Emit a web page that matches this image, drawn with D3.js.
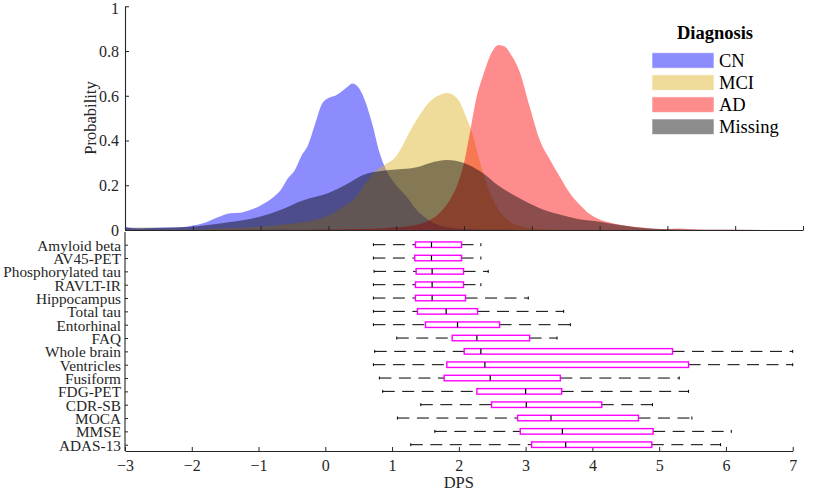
<!DOCTYPE html>
<html>
<head>
<meta charset="utf-8">
<script src="https://cdn.jsdelivr.net/npm/d3@7"></script>
<style>
  html, body { margin: 0; padding: 0; background: #fff; }
  svg { display: block; font-family: "Liberation Serif", "Times New Roman", serif; }
</style>
</head>
<body>
<svg id="chart" width="813" height="492"></svg>
<script>
// ---------- Data ----------
const diagnoses = ["CN", "MCI", "AD", "Missing"];

const cnDensity = [
  [-3, 0.015], [-2.8, 0.006], [-2.5, 0.01], [-2.2, 0.012], [-2.0, 0.02], [-1.8, 0.035],
  [-1.6, 0.06], [-1.45, 0.075], [-1.3, 0.077], [-1.2, 0.085], [-1.0, 0.11], [-0.8, 0.15],
  [-0.7, 0.18], [-0.6, 0.23], [-0.5, 0.265], [-0.4, 0.33], [-0.3, 0.38], [-0.2, 0.47],
  [-0.1, 0.56], [0.0, 0.59], [0.1, 0.60], [0.2, 0.62], [0.3, 0.645], [0.35, 0.655],
  [0.45, 0.635], [0.55, 0.57], [0.65, 0.47], [0.75, 0.35], [0.85, 0.27], [1.0, 0.2],
  [1.15, 0.15], [1.3, 0.09], [1.45, 0.05], [1.6, 0.025], [1.8, 0.01], [2.0, 0.005],
  [2.5, 0.002], [3.0, 0.0], [7.0, 0.0]
];
const mciDensity = [
  [-3, 0.0], [-2, 0.002], [-1.5, 0.008], [-1.0, 0.015], [-0.5, 0.03], [-0.2, 0.045],
  [0.0, 0.065], [0.2, 0.1], [0.4, 0.145], [0.55, 0.21], [0.7, 0.265], [0.85, 0.295],
  [1.0, 0.33], [1.1, 0.38], [1.2, 0.44], [1.35, 0.515], [1.5, 0.575], [1.65, 0.605],
  [1.75, 0.612], [1.9, 0.588], [2.04, 0.5], [2.14, 0.415], [2.24, 0.3], [2.33, 0.21],
  [2.43, 0.135], [2.53, 0.082], [2.68, 0.037], [2.85, 0.015], [3.0, 0.007], [3.5, 0.001],
  [7.0, 0.0]
];
const adDensity = [
  [-3, 0.0], [-1.0, 0.001], [0.0, 0.002], [0.5, 0.004], [1.0, 0.012], [1.25, 0.02],
  [1.5, 0.045], [1.6, 0.065], [1.79, 0.134], [1.9, 0.2], [2.0, 0.3], [2.09, 0.44],
  [2.19, 0.6], [2.28, 0.69], [2.38, 0.775], [2.51, 0.827], [2.6, 0.82], [2.68, 0.79],
  [2.83, 0.70], [2.97, 0.55], [3.12, 0.40], [3.27, 0.313], [3.42, 0.235], [3.56, 0.165],
  [3.71, 0.112], [3.86, 0.07], [4.0, 0.047], [4.15, 0.034], [4.3, 0.024], [4.6, 0.012],
  [4.85, 0.005], [5.0, 0.004], [5.15, 0.007], [5.3, 0.004], [5.6, 0.001], [7.0, 0.0]
];
const missingDensity = [
  [-3, 0.01], [-2.5, 0.01], [-2.0, 0.015], [-1.5, 0.033], [-1.0, 0.06], [-0.7, 0.09],
  [-0.4, 0.13], [0.0, 0.165], [0.3, 0.21], [0.5, 0.245], [0.8, 0.265], [1.0, 0.27],
  [1.3, 0.28], [1.5, 0.3], [1.75, 0.313], [2.0, 0.30], [2.25, 0.26], [2.5, 0.2],
  [2.8, 0.145], [3.1, 0.1], [3.4, 0.07], [3.7, 0.048], [4.0, 0.037], [4.3, 0.022],
  [4.6, 0.01], [4.9, 0.004], [5.5, 0.001], [7.0, 0.0]
];

const biomarkers = ["Amyloid beta", "AV45-PET", "Phosphorylated tau", "RAVLT-IR", "Hippocampus",
  "Total tau", "Entorhinal", "FAQ", "Whole brain", "Ventricles", "Fusiform", "FDG-PET",
  "CDR-SB", "MOCA", "MMSE", "ADAS-13"];
const whiskerLow  = [0.72, 0.72, 0.73, 0.72, 0.72, 0.72, 0.72, 1.07, 0.74, 0.72, 0.81, 0.86, 1.43, 1.08, 1.64, 1.28];
const boxQ1       = [1.35, 1.34, 1.36, 1.35, 1.35, 1.38, 1.50, 1.90, 2.08, 1.82, 1.78, 2.27, 2.49, 2.88, 2.92, 3.09];
const boxMedian   = [1.59, 1.59, 1.60, 1.60, 1.60, 1.81, 1.98, 2.27, 2.33, 2.39, 2.47, 3.00, 3.01, 3.38, 3.55, 3.60];
const boxQ3       = [2.04, 2.04, 2.07, 2.07, 2.10, 2.28, 2.61, 3.06, 5.20, 5.44, 3.52, 3.54, 4.14, 4.69, 4.91, 4.89];
const whiskerHigh = [2.33, 2.33, 2.44, 2.33, 3.04, 3.57, 3.67, 3.47, 7.0, 7.0, 5.30, 5.44, 4.90, 5.49, 6.08, 5.92];

const xTicks = [-3, -2, -1, 0, 1, 2, 3, 4, 5, 6, 7];
const yTicks = [0, 0.2, 0.4, 0.6, 0.8, 1];

// ---------- Setup ----------
const svg = d3.select("#chart");
const fillColors = {
  CN: "rgb(0,0,255)",
  MCI: "rgb(222,178,30)",
  AD: "rgb(255,0,0)",
  Missing: "rgb(0,0,0)"
};
const fillAlpha = 0.45;
const densities = { CN: cnDensity, MCI: mciDensity, AD: adDensity, Missing: missingDensity };

// Top panel scales
const xTop = d3.scaleLinear().domain([-3, 7]).range([125, 803]);
const yTop = d3.scaleLinear().domain([0, 1]).range([230, 6.3]);

// Bottom panel scales
const xBot = d3.scaleLinear().domain([-3, 7]).range([125, 792.7]);
const yBot = d3.scalePoint().domain(biomarkers).range([244.7, 444.7]);

// ---------- Top: density areas ----------
const area = d3.area()
  .x(d => xTop(d[0]))
  .y0(yTop(0))
  .y1(d => yTop(d[1]))
  .curve(d3.curveMonotoneX);

const gTop = svg.append("g");
diagnoses.forEach(k => {
  gTop.append("path")
    .datum(densities[k])
    .attr("d", area)
    .attr("fill", fillColors[k])
    .attr("fill-opacity", fillAlpha)
    .attr("stroke", "none");
});

// Top axes
const axTopX = d3.axisBottom(xTop).tickValues(xTicks).tickSizeInner(-4).tickSizeOuter(0).tickFormat("");
const gx1 = svg.append("g").attr("transform", `translate(0,${yTop(0)})`).call(axTopX);
const axTopY = d3.axisLeft(yTop).tickValues(yTicks).tickSizeInner(-4).tickSizeOuter(0)
  .tickFormat(d => d === 0 ? "0" : d === 1 ? "1" : d3.format(".1f")(d));
const gy1 = svg.append("g").attr("transform", `translate(${xTop(-3)},0)`).call(axTopY);

// Bottom axes
const axBotX = d3.axisBottom(xBot).tickValues(xTicks).tickSizeInner(-4).tickSizeOuter(0).tickFormat(d3.format("d"));
const gx2 = svg.append("g").attr("transform", `translate(0,451)`).call(axBotX);
const axBotY = d3.axisLeft(yBot).tickSizeInner(-3).tickSizeOuter(0);
const gy2 = svg.append("g").attr("transform", `translate(${xBot(-3)},0)`).call(axBotY);
gy2.select(".domain").attr("d", `M0,232V451`);

[gx1, gy1, gx2, gy2].forEach(g => {
  g.selectAll(".domain").attr("stroke", "#262626").attr("stroke-width", 1.1);
  g.selectAll(".tick line").attr("stroke", "#262626").attr("stroke-width", 1);
  g.selectAll("text").attr("fill", "#262626").attr("font-family", "Liberation Serif, serif");
});
gy1.selectAll("text").attr("font-size", 16).attr("x", -6).attr("dy", "0.33em");
gy1.selectAll(".tick").filter(d => d === 1).select("text").attr("dy", "0.45em");
gx2.selectAll("text").attr("font-size", 16).attr("y", 9).attr("dy", "0.71em");
gy2.selectAll("text").attr("font-size", 15.3).attr("x", -4).attr("dy", "0.35em");

// Axis titles
svg.append("text")
  .attr("transform", `translate(96,118) rotate(-90)`)
  .attr("text-anchor", "middle")
  .attr("font-size", 16.5)
  .attr("fill", "#262626")
  .text("Probability");
svg.append("text")
  .attr("x", (xBot(-3) + xBot(7)) / 2)
  .attr("y", 488)
  .attr("text-anchor", "middle")
  .attr("font-size", 16.5)
  .attr("fill", "#262626")
  .text("DPS");

// ---------- Bottom: box plots ----------
const gBox = svg.append("g");
const boxH = 5.5;
const dash = "12,7.5";
biomarkers.forEach((b, i) => {
  const y = yBot(b);
  // lower whisker
  gBox.append("line")
    .attr("x1", xBot(whiskerLow[i])).attr("x2", xBot(boxQ1[i]))
    .attr("y1", y).attr("y2", y)
    .attr("stroke", "#000").attr("stroke-width", 1).attr("stroke-dasharray", dash);
  // upper whisker
  gBox.append("line")
    .attr("x1", xBot(boxQ3[i])).attr("x2", xBot(whiskerHigh[i]))
    .attr("y1", y).attr("y2", y)
    .attr("stroke", "#000").attr("stroke-width", 1).attr("stroke-dasharray", dash);
  // caps
  [whiskerLow[i], whiskerHigh[i]].forEach(v => {
    gBox.append("line")
      .attr("x1", xBot(v)).attr("x2", xBot(v))
      .attr("y1", y - 1.5).attr("y2", y + 1.5)
      .attr("stroke", "#000").attr("stroke-width", 1);
  });
  // box
  gBox.append("rect")
    .attr("x", xBot(boxQ1[i])).attr("y", y - boxH / 2)
    .attr("width", xBot(boxQ3[i]) - xBot(boxQ1[i])).attr("height", boxH)
    .attr("fill", "none").attr("stroke", "#ff00ff").attr("stroke-width", 1.4);
  // median
  gBox.append("line")
    .attr("x1", xBot(boxMedian[i])).attr("x2", xBot(boxMedian[i]))
    .attr("y1", y - boxH / 2).attr("y2", y + boxH / 2)
    .attr("stroke", "#000").attr("stroke-width", 1.2);
});

// ---------- Legend ----------
const lg = svg.append("g");
lg.append("text")
  .attr("x", 715).attr("y", 39)
  .attr("text-anchor", "middle")
  .attr("font-size", 18.5).attr("font-weight", "bold")
  .attr("fill", "#000")
  .text("Diagnosis");
diagnoses.forEach((k, i) => {
  const y0 = 52.7 + i * 22.1;
  lg.append("rect")
    .attr("x", 652).attr("y", y0)
    .attr("width", 62).attr("height", 15.5)
    .attr("fill", fillColors[k]).attr("fill-opacity", fillAlpha)
    .attr("stroke", "#fff").attr("stroke-opacity", 0.6).attr("stroke-width", 1);
  lg.append("text")
    .attr("x", 719).attr("y", y0 + 7.8)
    .attr("dy", "0.35em")
    .attr("font-size", 18.5)
    .attr("fill", "#000")
    .text(k);
});
</script>
</body>
</html>
